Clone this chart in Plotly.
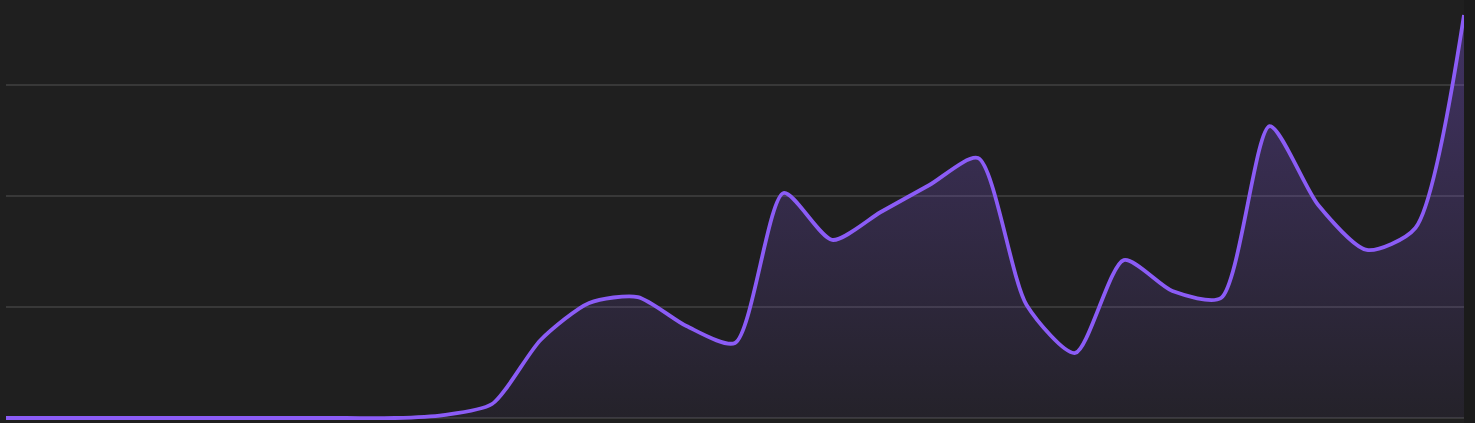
import plotly.graph_objects as go

# one value per step (grid step = 100)
steps = list(range(31))
values = [0, 0, 0, 0, 0, 0, 0, 0, 0, 2.7, 12.6, 70.3, 103.6, 109.0, 82.9, 67.6,
          202.7, 160.4, 185.6, 209.9, 234.2, 101.8, 58.6, 142.3, 114.4, 108.1,
          263.0, 191.9, 151.4, 171.2, 363.1]

bg = "#1f1f1f"

fig = go.Figure()
fig.add_trace(go.Scatter(
    x=steps,
    y=values,
    mode="lines",
    line=dict(color="#8b5cf6", width=3.8, shape="spline", smoothing=0.7),
    fill="tozeroy",
    fillgradient=dict(
        type="vertical",
        colorscale=[[0, "rgba(139,92,246,0.05)"], [1, "rgba(139,92,246,0.32)"]],
    ),
    hoverinfo="skip",
))

fig.update_layout(
    width=1475,
    height=423,
    margin=dict(l=6, r=11, t=0, b=0),
    paper_bgcolor=bg,
    plot_bgcolor=bg,
    showlegend=False,
    xaxis=dict(range=[0, 30], showgrid=False, zeroline=False,
               showticklabels=False, fixedrange=True),
    yaxis=dict(range=[-4.5, 376.6], tick0=0, dtick=100, showgrid=True,
               gridcolor="#383838", gridwidth=1.6, zeroline=False,
               showticklabels=False, fixedrange=True),
    shapes=[dict(type="rect", xref="paper", yref="paper", x0=1, x1=1.01,
                 y0=0, y1=1, fillcolor="#1b1b1b", line=dict(width=0),
                 layer="below")],
)

# page has a default body margin, drop it so the chart fills the window
fig.write_html("out.html", config={"displayModeBar": False},
               post_script="document.body.style.margin='0';"
                           "document.body.style.background='#1f1f1f';")
